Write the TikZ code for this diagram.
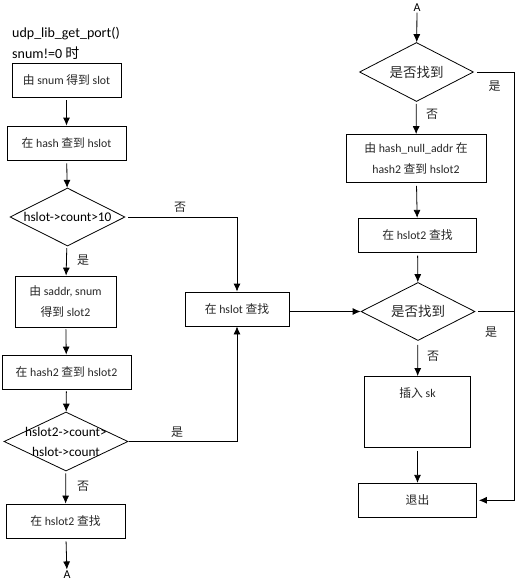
\documentclass[tikz,border=0pt]{standalone}
\usepackage{fontspec}
\setmainfont{Carlito}
\newfontfamily\cjk{Noto Sans CJK SC}
\usetikzlibrary{shapes.geometric,arrows.meta}
\newcommand\zhtxt[1]{{\cjk #1}}
\begin{document}
\begin{tikzpicture}[x=1pt,y=-1pt,
  box/.style={draw,line width=0.8pt,inner sep=0pt,align=center,font=\fontsize{11.8}{21}\selectfont,text=black!85},
  dia/.style={draw,line width=0.8pt,diamond,inner sep=0pt},
  dtext/.style={font=\fontsize{13.3}{20}\selectfont,align=center},
  arr/.style={-{Latex[length=8pt,width=7pt]},line width=0.8pt},
  lbl/.style={font=\fontsize{12}{13}\selectfont\cjk,text=black!85},
  ttl/.style={font=\fontsize{14}{16}\selectfont,anchor=west,inner sep=0pt}]
\useasboundingbox (0,0) rectangle (518,582);

% titles
\node[ttl] (t1) at (12,34) {udp\_lib\_get\_port()};
\node[ttl] (t2) at (12,53.5) {snum!=0 \zhtxt{时}};

% left column
\node[box,minimum width=109pt,minimum height=34pt] (b1) at (66.5,80) {\zhtxt{由} snum \zhtxt{得到} slot};
\node[box,minimum width=119pt,minimum height=34pt] (b2) at (66.5,143) {\zhtxt{在} hash \zhtxt{查到} hslot};
\node[dia,minimum width=115pt,minimum height=58pt] (d1) at (67.5,217) {};
\node[dtext] (d1t) at (d1.center) {hslot-\textgreater count\textgreater 10};
\node[box,minimum width=101pt,minimum height=51pt] (b3) at (65.5,301.5) {\zhtxt{由} saddr, snum\\\zhtxt{得到} slot2};
\node[box,minimum width=129pt,minimum height=34pt] (b4) at (66.5,372) {\zhtxt{在} hash2 \zhtxt{查到} hslot2};
\node[dia,minimum width=124pt,minimum height=59pt] (d2) at (66,441.5) {};
\node[dtext] (d2t) at (d2.center) {hslot2-\textgreater count\textgreater\\hslot-\textgreater count};
\node[box,minimum width=119pt,minimum height=34pt] (b5) at (65.5,521) {\zhtxt{在} hslot2 \zhtxt{查找}};
\node[font=\fontsize{12}{13}\selectfont,inner sep=1pt] (A1) at (67,574.5) {A};

% middle
\node[box,minimum width=104pt,minimum height=34pt] (hs) at (237,309) {\zhtxt{在} hslot \zhtxt{查找}};

% right column
\node[font=\fontsize{12}{13}\selectfont,inner sep=1pt] (A2) at (417,7.5) {A};
\node[dia,minimum width=114pt,minimum height=59pt] (d4) at (416.5,72) {};
\node[dtext,font=\fontsize{13.5}{14}\selectfont\cjk,text=black!85] (d4t) at (d4.center) {是否找到};
\node[box,minimum width=140pt,minimum height=48pt] (b6) at (416,158.5) {\zhtxt{由} hash\_null\_addr \zhtxt{在}\\hash2 \zhtxt{查到} hslot2};
\node[box,minimum width=118pt,minimum height=34pt] (b7) at (417.5,235.3) {\zhtxt{在} hslot2 \zhtxt{查找}};
\node[dia,minimum width=114pt,minimum height=58pt] (d5) at (418,311.5) {};
\node[dtext,font=\fontsize{13.5}{14}\selectfont\cjk,text=black!85] (d5t) at (d5.center) {是否找到};
\node[box,minimum width=106pt,minimum height=71pt] (b8) at (417.5,412) {};
\node[box,draw=none,anchor=center] (b8t) at (417.5,393) {\zhtxt{插入} sk};
\node[box,minimum width=118pt,minimum height=34pt] (b9) at (417.5,500.3) {\zhtxt{退出}};
\coordinate (rr) at (514.5,72);

% connectors left
\draw[arr,shorten <=3pt] (b1) -- (b2);
\draw[arr,shorten <=3pt] (b2) -- (d1);
\draw[arr,shorten <=2pt] (d1) -- (b3);
\draw[arr,shorten <=2pt] (b3) -- (b4);
\draw[arr,shorten <=2pt] (b4) -- (d2);
\draw[arr,shorten <=2pt] (d2) -- (b5);
\draw[arr,shorten <=3pt] (b5) -- (A1);
\draw[arr,shorten <=3pt] (d1.east) -| (hs.north);
\draw[arr,shorten <=1pt] (d2.east) -| (hs.south);
\draw[arr] (hs.east |- d5.west) -- (d5.west);

% connectors right
\draw[arr] (A2) -- (d4);
\draw[arr,shorten <=2pt] (d4) -- (b6);
\draw[arr,shorten <=3pt] (b6) -- (b7);
\draw[arr,shorten <=3pt] (b7) -- (d5);
\draw[arr,shorten <=4pt] (d5) -- (b8);
\draw[arr,shorten <=3pt] (b8) -- (b9);
\draw[arr,shorten <=3pt,shorten >=2pt] (d4.east) -- (rr) |- (b9.east);
\draw[line width=0.8pt,shorten <=3pt] (d5.east) -- (d5.east -| rr);

% labels
\node[lbl] (l1) at (180,207) {否};
\node[lbl] (l2) at (83,260) {是};
\node[lbl] (l3) at (177,432) {是};
\node[lbl] (l4) at (83,486) {否};
\node[lbl] (l5) at (494.5,86.5) {是};
\node[lbl] (l6) at (432,114) {否};
\node[lbl] (l7) at (491,332.5) {是};
\node[lbl] (l8) at (433,356) {否};
\end{tikzpicture}
\end{document}
